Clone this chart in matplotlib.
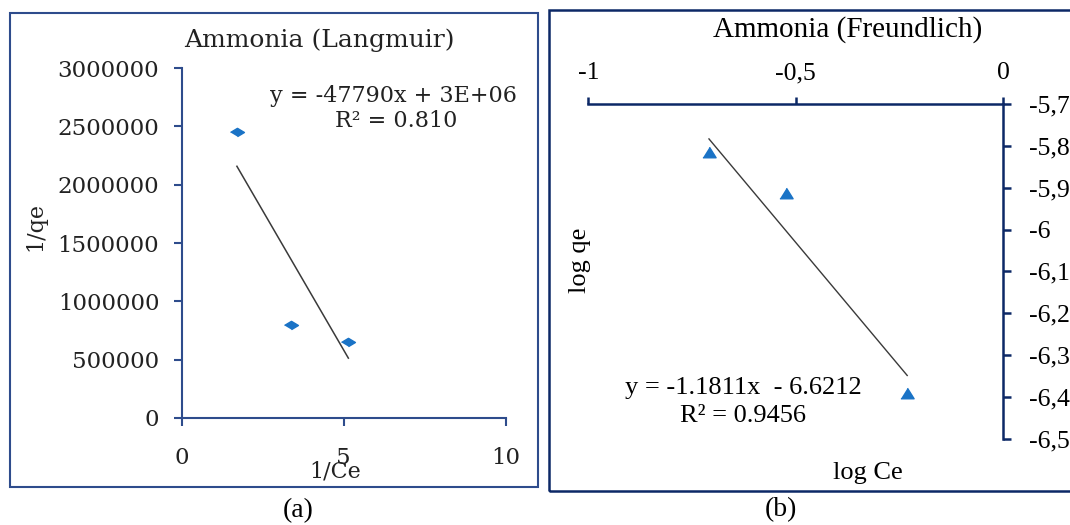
"""
Ammonia adsorpsjon: Langmuir (a) og Freundlich (b) isotermer
"""
import matplotlib.pyplot as plt
import numpy as np
from matplotlib.patches import Rectangle
from matplotlib.ticker import FuncFormatter

plt.rcParams['axes.unicode_minus'] = False

# (a) Langmuir: 1/Ce mot 1/qe
inv_ce = [1.71, 3.37, 5.15]
inv_qe = [2450000, 800000, 650000]
lang_fit = [-478000, 2975000]            # stigning og konstantledd, lest av trendlinja
lang_eq = "y = -47790x + 3E+06"
lang_r2 = "R² = 0.810"
lang_xticks = [0, 5, 10]
lang_yticks = [0, 500000, 1000000, 1500000, 2000000, 2500000, 3000000]

# (b) Freundlich: log Ce mot log qe
log_ce = [-0.709, -0.523, -0.231]
log_qe = [-5.816, -5.912, -6.391]
freund_fit = [-1.1811, -6.6212]
freund_eq = "y = -1.1811x  - 6.6212"
freund_r2 = "R² = 0.9456"
freund_xticks = [-1, -0.5, 0]
freund_yticks = [-5.7, -5.8, -5.9, -6.0, -6.1, -6.2, -6.3, -6.4, -6.5]

W, H = 1070, 525


def px(x, y):
    """Piksel (fra øvre venstre hjørne) -> figurkoordinater."""
    return x / W, 1 - y / H


def comma(v, pos=None):
    s = f"{v:.1f}"
    if s.endswith(".0"):
        s = s[:-2]
    return s.replace(".", ",")


fig = plt.figure(figsize=(W / 100, H / 100), dpi=100)

serif_a = "DejaVu Serif"
serif_b = "Liberation Serif"
navy_a = "#2E4C8C"
navy_b = "#0C2866"
blue = "#1A73C6"
trend = "#3A3A3A"
grey_txt = "#222222"

# flate markører, som i originalen
diamond = [(-1, 0), (0, 0.6), (1, 0), (0, -0.6)]
tri = [(-1, -0.8), (1, -0.8), (0, 0.8)]

# ---------------- (a) Langmuir ----------------
ax = fig.add_axes([181.5 / W, 1 - 418 / H, 324 / W, 350 / H])
ax.set_facecolor("none")
ax.plot(inv_ce, inv_qe, marker=diamond, ls="none", color=blue, ms=10, clip_on=False)
xs = np.array([min(inv_ce), max(inv_ce)])
ax.plot(xs, lang_fit[0] * xs + lang_fit[1], color=trend, lw=1.1)
ax.set_xlim(0, 10)
ax.set_ylim(0, 3000000)
ax.set_xticks(lang_xticks)
ax.set_yticks(lang_yticks)
ax.set_xticklabels([str(t) for t in lang_xticks])
ax.set_yticklabels([str(t) for t in lang_yticks])
for s in ["top", "right"]:
    ax.spines[s].set_visible(False)
for s in ["left", "bottom"]:
    ax.spines[s].set_color(navy_a)
    ax.spines[s].set_linewidth(1.5)
ax.tick_params(axis="both", direction="out", length=6, width=1.5, color=navy_a,
               labelsize=16.5, labelcolor=grey_txt)
ax.tick_params(axis="x", pad=15)
ax.tick_params(axis="y", pad=10)
for lab in ax.get_xticklabels() + ax.get_yticklabels():
    lab.set_family(serif_a)

fig.text(*px(319, 40), "Ammonia (Langmuir)", family=serif_a, fontsize=18,
         ha="center", va="center", color=grey_txt)
fig.text(*px(393, 96), lang_eq, family=serif_a, fontsize=16, ha="center", va="center",
         color=grey_txt)
fig.text(*px(396, 121), lang_r2, family=serif_a, fontsize=16, ha="center", va="center",
         color=grey_txt)
fig.text(*px(335, 471), "1/Ce", family=serif_a, fontsize=16, ha="center", va="center",
         color=grey_txt)
fig.text(*px(35, 227), "1/qe", family=serif_a, fontsize=16, ha="center", va="center",
         rotation=90, color=grey_txt)
fig.text(*px(298, 511), "(a)", family=serif_b, fontsize=20, ha="center", va="center")
fig.add_artist(Rectangle(px(9.5, 487), 528 / W, 474 / H, transform=fig.transFigure,
                         fill=False, edgecolor=navy_a, lw=1.5))

# ---------------- (b) Freundlich ----------------
bx = fig.add_axes([588.3 / W, 1 - 439 / H, 414.7 / W, 335.2 / H])
bx.set_facecolor("none")
bx.plot(log_ce, log_qe, marker=tri, ls="none", color=blue, ms=9.5, clip_on=False)
xs = np.array([min(log_ce), max(log_ce)])
bx.plot(xs, freund_fit[0] * xs + freund_fit[1], color=trend, lw=1.0)
bx.set_xlim(-1, 0)
bx.set_ylim(-6.5, -5.7)
bx.set_xticks(freund_xticks)
bx.set_yticks(freund_yticks)
bx.xaxis.set_major_formatter(FuncFormatter(comma))
bx.yaxis.set_major_formatter(FuncFormatter(comma))
bx.xaxis.tick_top()
bx.yaxis.tick_right()
for s in ["bottom", "left"]:
    bx.spines[s].set_visible(False)
for s in ["top", "right"]:
    bx.spines[s].set_color(navy_b)
    bx.spines[s].set_linewidth(1.8)
bx.tick_params(axis="both", direction="out", width=1.8, color=navy_b, labelsize=18.5)
bx.tick_params(axis="x", length=5, pad=9)
bx.tick_params(axis="y", length=6, pad=13)
for lab in bx.get_xticklabels() + bx.get_yticklabels():
    lab.set_family(serif_b)

fig.text(*px(848, 30), "Ammonia (Freundlich)", family=serif_b, fontsize=21,
         ha="center", va="center")
fig.text(*px(743, 388), freund_eq, family=serif_b, fontsize=19, ha="center", va="center")
fig.text(*px(743, 416), freund_r2, family=serif_b, fontsize=19, ha="center", va="center")
fig.text(*px(868, 473), "log Ce", family=serif_b, fontsize=19, ha="center", va="center")
fig.text(*px(580, 260), "log qe", family=serif_b, fontsize=19, ha="center", va="center",
         rotation=90)
fig.text(*px(781, 510), "(b)", family=serif_b, fontsize=20, ha="center", va="center")
fig.add_artist(Rectangle(px(548.5, 490.5), 530 / W, 480.5 / H, transform=fig.transFigure,
                         fill=False, edgecolor=navy_b, lw=1.8))

fig.savefig("out.png", dpi=100)
